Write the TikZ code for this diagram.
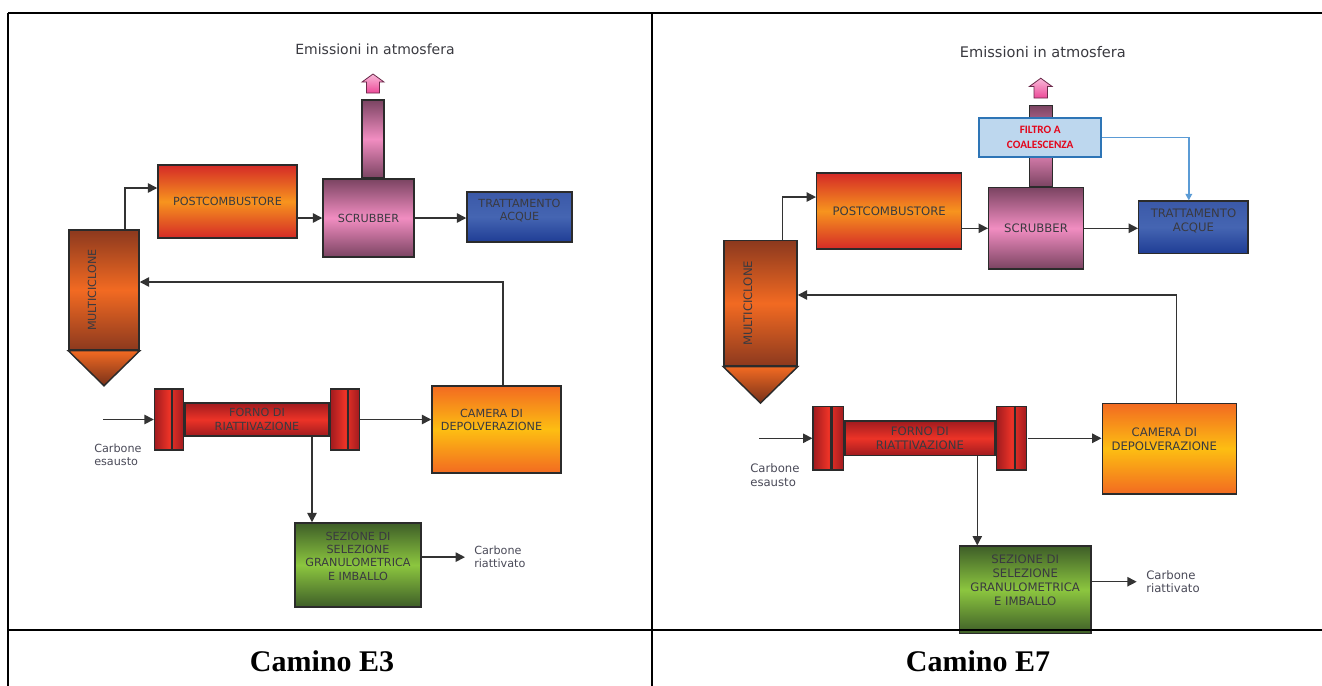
\documentclass[tikz,border=0pt]{standalone}
\usepackage{fontspec}
\setmainfont{Liberation Serif}
\newfontfamily\verd{DejaVu Sans}
\newfontfamily\calib{Carlito}
\usetikzlibrary{arrows.meta,positioning,calc}
\definecolor{boxln}{HTML}{2B2B2B}
\definecolor{lnk}{HTML}{333333}
\definecolor{txtg}{HTML}{3A3A40}
\definecolor{sideg}{HTML}{4A4A58}
\definecolor{redD}{HTML}{D42A27}
\definecolor{orng}{HTML}{F7941E}
\definecolor{mauveD}{HTML}{7B4462}
\definecolor{mauveL}{HTML}{F18DC1}
\definecolor{blueT}{HTML}{3B59A8}
\definecolor{blueM}{HTML}{4565B2}
\definecolor{blueB}{HTML}{1F3D95}
\definecolor{rustD}{HTML}{8C391E}
\definecolor{rustL}{HTML}{F26A22}
\definecolor{fornoD}{HTML}{A11B1F}
\definecolor{fornoL}{HTML}{EC3327}
\definecolor{camO}{HTML}{F26A21}
\definecolor{camY}{HTML}{FDBE12}
\definecolor{grnD}{HTML}{3E5E28}
\definecolor{grnL}{HTML}{8CC63F}
\definecolor{emisA}{HTML}{F9B9D9}
\definecolor{emisB}{HTML}{EC4A98}
\definecolor{emisln}{HTML}{6B2A4A}
\definecolor{filtF}{HTML}{BDD7EE}
\definecolor{filtD}{HTML}{2E75B6}
\definecolor{filtL}{HTML}{5B9BD5}
\definecolor{filtT}{HTML}{E3061B}
\tikzset{
  blk/.style={rectangle,draw=boxln,line width=1.1pt,inner sep=1pt,
              font=\verd\fontsize{8.4}{10}\selectfont,text=txtg,align=center},
  btxt/.style={inner sep=0pt,font=\verd\fontsize{8.4}{10}\selectfont,
               text=txtg,align=center},
  stxt/.style={inner sep=0pt,anchor=north west,align=left,
               font=\verd\fontsize{8.4}{9.8}\selectfont,text=sideg},
  shd/.style n args={3}{top color=#1,bottom color=#3,middle color=#2},
  hshd/.style n args={3}{left color=#1,right color=#3,middle color=#2},
  flange/.style={blk,hshd={fornoD}{fornoL}{fornoD},
                 minimum width=21.75pt,minimum height=45.75pt},
  arr/.style={-{Triangle[length=7pt,width=7pt]},line width=1.1pt,draw=lnk},
  barr/.style={-{Triangle[length=5pt,width=5pt]},line width=1.2pt,draw=filtL},
  filt/.style={rectangle,draw=filtD,line width=1.5pt,fill=filtF,
               minimum width=87.75pt,minimum height=28.1pt,align=center,
               font=\calib\bfseries\fontsize{8.1}{10.8}\selectfont,text=filtT},
  captxt/.style={font=\bfseries\fontsize{22.5}{26}\selectfont},
  tbl/.style={line width=1.2pt,draw=black},
}

\begin{document}
\begin{tikzpicture}[x=0.75pt,y=-0.75pt]
  \fill[white] (0,0) rectangle (1322,686);
  \useasboundingbox (0,0) rectangle (1322,686);

  \foreach \p/\dx/\dy/\sc in {a/0/0/1,b/652.1/1.1/1.042}{
  \begin{scope}[shift={(\dx,\dy)},scale=\sc,transform shape]
    \node[inner sep=0pt,font=\verd\fontsize{10.5}{12}\selectfont,text=txtg]
      (emis\p) at (375,49) {Emissioni in atmosfera};
    \path[top color=emisA,bottom color=emisB,draw=emisln,line width=0.6pt]
      (362,82) -- (373,74) -- (384,82) -- (379.5,82) -- (379.5,93)
      -- (366.5,93) -- (366.5,82) -- cycle;
    \node[blk,shd={mauveD}{mauveL}{mauveD},minimum width=16.5pt,
          minimum height=58.5pt] (stack\p) at (373,139) {};
    \node[blk,shd={mauveD}{mauveL}{mauveD},minimum width=68.25pt,
          minimum height=58.5pt] (scrub\p) at (368.5,218) {SCRUBBER};
    \node[blk,shd={redD}{orng}{redD},minimum width=104.25pt,
          minimum height=54.75pt] (post\p) at (227.5,201.5) {POSTCOMBUSTORE};
    \node[blk,shd={blueT}{blueM}{blueB},minimum width=78.75pt,
          minimum height=37.5pt] (tratt\p) at (519.5,217) {};
    \node[btxt] (trattT\p) at ($(tratt\p)+(0,-6.5)$) {TRATTAMENTO\\ACQUE};
    \node[blk,shd={rustD}{rustL}{rustD},minimum width=52.5pt,
          minimum height=90pt] (multi\p) at (104,290) {};
    \path[top color=rustL,bottom color=rustD!85!black,draw=boxln,line width=1.1pt]
      (multi\p.south west) -- (multi\p.south east)
      -- ($(multi\p.south)+(0,35)$) -- cycle;
    \node[btxt,rotate=90] (multiT\p) at ($(multi\p)+(-12,0)$) {MULTICICLONE};
    \node[blk,shd={fornoD}{fornoL}{fornoD},minimum width=108pt,
          minimum height=24.75pt] (tube\p) at (257,419.5)
          {FORNO DI\\RIATTIVAZIONE};
    \node[flange,left=0pt of tube\p] (flL\p) {};
    \node[flange,right=0pt of tube\p] (flR\p) {};
    \draw[boxln,line width=1.7pt] ($(flL\p.north)+(3,0)$) -- ($(flL\p.south)+(3,0)$);
    \draw[boxln,line width=1.7pt] ($(flR\p.north)+(3,0)$) -- ($(flR\p.south)+(3,0)$);
    \node[blk,shd={camO}{camY}{camO},minimum width=96.75pt,
          minimum height=65.25pt] (cam\p) at (496.5,429.5) {};
    \node[btxt] (camT\p) at ($(cam\p)+(-5,-9.5)$) {CAMERA DI\\DEPOLVERAZIONE};
    \node[blk,shd={grnD}{grnL}{grnD},minimum width=94.5pt,
          minimum height=63pt] (sez\p) at (358,565) {};
    \node[btxt] (sezT\p) at ($(sez\p)+(0,-9)$)
          {SEZIONE DI\\SELEZIONE\\GRANULOMETRICA\\E IMBALLO};
    \coordinate (in\p) at (103,419.5);
    \node[stxt] (esausto\p) at (94,444) {Carbone\\esausto};
    \node[stxt] (riatt\p) at (474,546) {Carbone\\riattivato};

    \draw[arr] ($(multi\p.north)+(21,0)$) |- ($(post\p.west)+(0,-13.5)$);
    \draw[arr] (post\p.east |- scrub\p) -- (scrub\p.west);
    \draw[arr] (scrub\p.east) -- (scrub\p.east -| tratt\p.west);
    \draw[arr] ($(cam\p.north)+(6.5,0)$) |- ($(multi\p.east)+(0,-8)$);
    \draw[arr] (in\p) -- (in\p -| flL\p.west);
    \draw[arr] (flR\p.east |- tube\p) -- (cam\p.west |- tube\p);
    \coordinate (drop\p) at ($(tube\p.south)+(55,0)$);
    \draw[arr] (drop\p) -- (drop\p |- sez\p.north);
    \draw[arr] (sez\p.east |- riatt\p.west) -- ($(riatt\p.west)+(-9,0)$);
  \end{scope}
  }

  \begin{scope}[shift={(652.1,1.1)},scale=1.042,transform shape]
    \node[filt] (filtro) at (372.5,131) {FILTRO A\\COALESCENZA};
    \draw[barr] (filtro.east) -| ($(trattb.north)+(-4.5,0)$);
  \end{scope}

  \draw[tbl] (8,13) -- (1322,13);
  \draw[tbl] (8,13) -- (8,686);
  \draw[tbl] (652,13) -- (652,686);
  \draw[tbl] (8,630) -- (1322,630);
  \node[captxt] (capE3) at (322,661) {Camino E3};
  \node[captxt] (capE7) at (978,661) {Camino E7};
\end{tikzpicture}
\end{document}
